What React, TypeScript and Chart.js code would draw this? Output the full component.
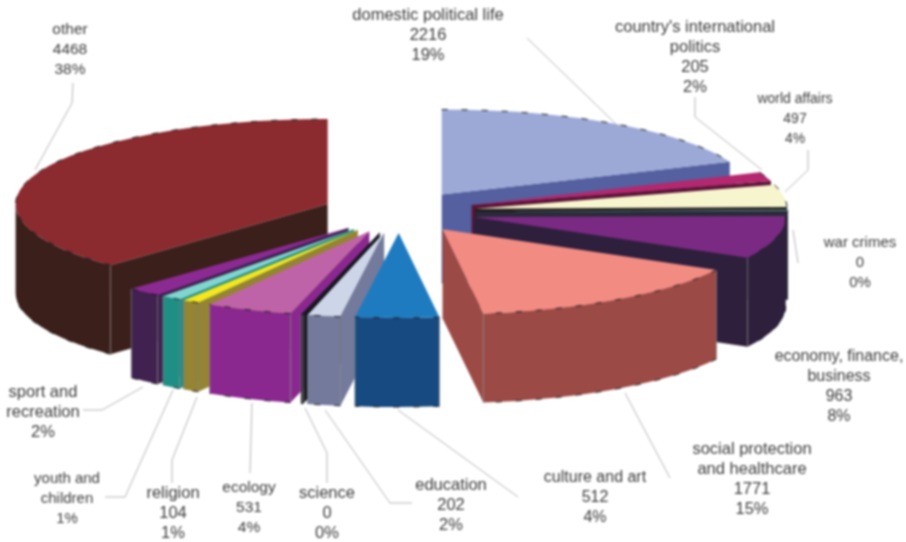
import React, { useEffect, useRef } from "react";
import { Chart, registerables } from "chart.js";

Chart.register(...registerables);

const categories = [
  "domestic political life", "country's international politics", "world affairs", "war crimes",
  "economy, finance, business", "social protection and healthcare", "culture and art", "education",
  "science", "ecology", "religion", "youth and children", "sport and recreation", "other",
];
const values = [2216, 205, 497, 20, 963, 1771, 512, 202, 14, 531, 104, 125, 210, 4468];
const topColors = [
  "#9CA9D6", "#B5276F", "#F7F5CE", "#6FA09A", "#7A2A82", "#F28B82", "#1F7BC0",
  "#CDD5E8", "#15151F", "#BF63A8", "#F5E61E", "#7FD6CF", "#8C2A94", "#8B2A2F",
];
const wallColors = [
  "#54609F", "#5C1437", "#1E1E1E", "#2A2A3A", "#2E1F3C", "#9C4A45", "#174A80",
  "#737A9C", "#15151F", "#8A288F", "#948433", "#1F8F85", "#40214F", "#3A1F1A",
];

const labelLines: string[][] = [
  ["other", "4468", "38%"],
  ["domestic political life", "2216", "19%"],
  ["country's international", "politics", "205", "2%"],
  ["world affairs", "497", "4%"],
  ["war crimes", "0", "0%"],
  ["economy, finance,", "business", "963", "8%"],
  ["social protection", "and healthcare", "1771", "15%"],
  ["culture and art", "512", "4%"],
  ["education", "202", "2%"],
  ["science", "0", "0%"],
  ["ecology", "531", "4%"],
  ["religion", "104", "1%"],
  ["youth and", "children", "1%"],
  ["sport and", "recreation", "2%"],
];
const labelX = [70, 428, 695, 795, 860, 839, 752, 595, 451, 327, 249, 173, 67, 43];
const labelY = [30, 15, 27, 99, 243, 357, 449, 478, 485, 493, 488, 493, 479, 392];
const labelSizes = [15.5, 16.5, 16.5, 14, 15, 16, 16.5, 16, 16.5, 16.5, 15.5, 16.5, 15, 16.5];
const leaders: number[][][] = [
  [[73, 83], [72, 103], [35, 170]],
  [[527, 38], [620, 128]],
  [[695, 97], [695, 117], [762, 170]],
  [[808, 150], [808, 170], [785, 192]],
  [[793, 230], [798, 263]],
  [[625, 393], [670, 478]],
  [[398, 410], [518, 497]],
  [[325, 410], [390, 503], [412, 503]],
  [[305, 408], [327, 453], [327, 483]],
  [[252, 403], [250, 473]],
  [[197, 397], [172, 460], [172, 483]],
  [[173, 390], [125, 497], [105, 497]],
  [[143, 387], [102, 410], [83, 410]],
];

const CX = 399, CY = 212, RX = 312, RY = 85, DEPTH = 89, EXPLODE = 77;

const pie3d = {
  id: "pie3d",
  beforeDatasetsDraw(chart: any) {
    const ctx = chart.ctx as CanvasRenderingContext2D;
    const arcs = chart.getDatasetMeta(0).data as any[];
    const order = arcs.map((_, i) => i).sort((a, b) => {
      const ma = (arcs[a].startAngle + arcs[a].endAngle) / 2 - Math.PI / 2;
      const mb = (arcs[b].startAngle + arcs[b].endAngle) / 2 - Math.PI / 2;
      return Math.abs(mb) - Math.abs(ma);
    });
    for (const i of order) {
      const arc = arcs[i];
      const { startAngle: s, endAngle: e, x, y, outerRadius: R } = arc.getProps(["startAngle", "endAngle", "x", "y", "outerRadius"], true);
      const mid = (s + e) / 2;
      const px = CX + (Math.cos(mid) * EXPLODE * RX) / 312;
      const py = CY + (Math.sin(mid) * EXPLODE * RY) / 312;
      const rim = (a: number) => [px + RX * Math.cos(a), py + RY * Math.sin(a)];
      const wall = wallColors[i];
      const quad = (a: number) => {
        const [qx, qy] = rim(a);
        ctx.beginPath();
        ctx.moveTo(px, py);
        ctx.lineTo(qx, qy);
        ctx.lineTo(qx, qy + DEPTH);
        ctx.lineTo(px, py + DEPTH);
        ctx.closePath();
        ctx.fillStyle = wall;
        ctx.fill();
      };
      if (Math.cos(s) < 0) quad(s);
      if (Math.cos(e) > 0) quad(e);
      const a0 = Math.max(s, 0), a1 = Math.min(e, Math.PI);
      if (a1 > a0) {
        ctx.beginPath();
        ctx.ellipse(px, py, RX, RY, 0, a0, a1);
        ctx.ellipse(px, py + DEPTH, RX, RY, 0, a1, a0, true);
        ctx.closePath();
        ctx.fillStyle = wall;
        ctx.fill();
        ctx.save();
        ctx.setLineDash([6, 14]);
        ctx.strokeStyle = "#1a1a1a";
        ctx.lineWidth = 1;
        ctx.beginPath();
        ctx.ellipse(px, py + DEPTH, RX, RY, 0, a0, a1);
        ctx.stroke();
        ctx.restore();
        ctx.strokeStyle = "rgba(130,130,130,0.75)";
        ctx.lineWidth = 1;
        for (const a of [s, e]) {
          if (a >= 0 && a <= Math.PI) {
            const [qx, qy] = rim(a);
            ctx.beginPath();
            ctx.moveTo(qx, qy);
            ctx.lineTo(qx, qy + DEPTH);
            ctx.stroke();
          }
        }
      }
      ctx.save();
      ctx.translate(px, py);
      ctx.scale(RX / R, RY / R);
      ctx.translate(-x, -y);
      arc.draw(ctx);
      ctx.restore();
      ctx.save();
      ctx.setLineDash([6, 14]);
      ctx.strokeStyle = "#1a1a1a";
      ctx.lineWidth = 1;
      ctx.beginPath();
      ctx.ellipse(px, py, RX, RY, 0, s, e);
      ctx.stroke();
      ctx.restore();
    }
    return false;
  },
  afterDraw(chart: any) {
    const ctx = chart.ctx as CanvasRenderingContext2D;
    ctx.save();
    ctx.strokeStyle = "#B5B5B5";
    ctx.lineWidth = 1;
    for (const line of leaders) {
      ctx.beginPath();
      line.forEach(([x, y], k) => (k ? ctx.lineTo(x, y) : ctx.moveTo(x, y)));
      ctx.stroke();
    }
    ctx.fillStyle = "#3c3c3c";
    ctx.textAlign = "center";
    ctx.textBaseline = "middle";
    labelLines.forEach((lines, i) => {
      ctx.font = `${labelSizes[i]}px 'Liberation Sans', Arial, sans-serif`;
      lines.forEach((t, k) => ctx.fillText(t, labelX[i], labelY[i] + k * 20));
    });
    ctx.restore();
  },
};

export default function App() {
  const ref = useRef<HTMLCanvasElement>(null);
  useEffect(() => {
    const chart = new Chart(ref.current!, {
      type: "pie",
      data: {
        labels: categories,
        datasets: [{ data: values, backgroundColor: topColors, borderWidth: 0 }],
      },
      options: {
        responsive: false,
        animation: false,
        layout: { padding: 0 },
        plugins: { legend: { display: false }, tooltip: { enabled: false } },
      },
      plugins: [pie3d],
    } as any);
    return () => chart.destroy();
  }, []);
  return (
    <canvas
      ref={ref}
      width={906}
      height={542}
      style={{ position: "fixed", left: 0, top: 0, width: 906, height: 542, filter: "blur(0.9px)", background: "#fff" }}
    />
  );
}
